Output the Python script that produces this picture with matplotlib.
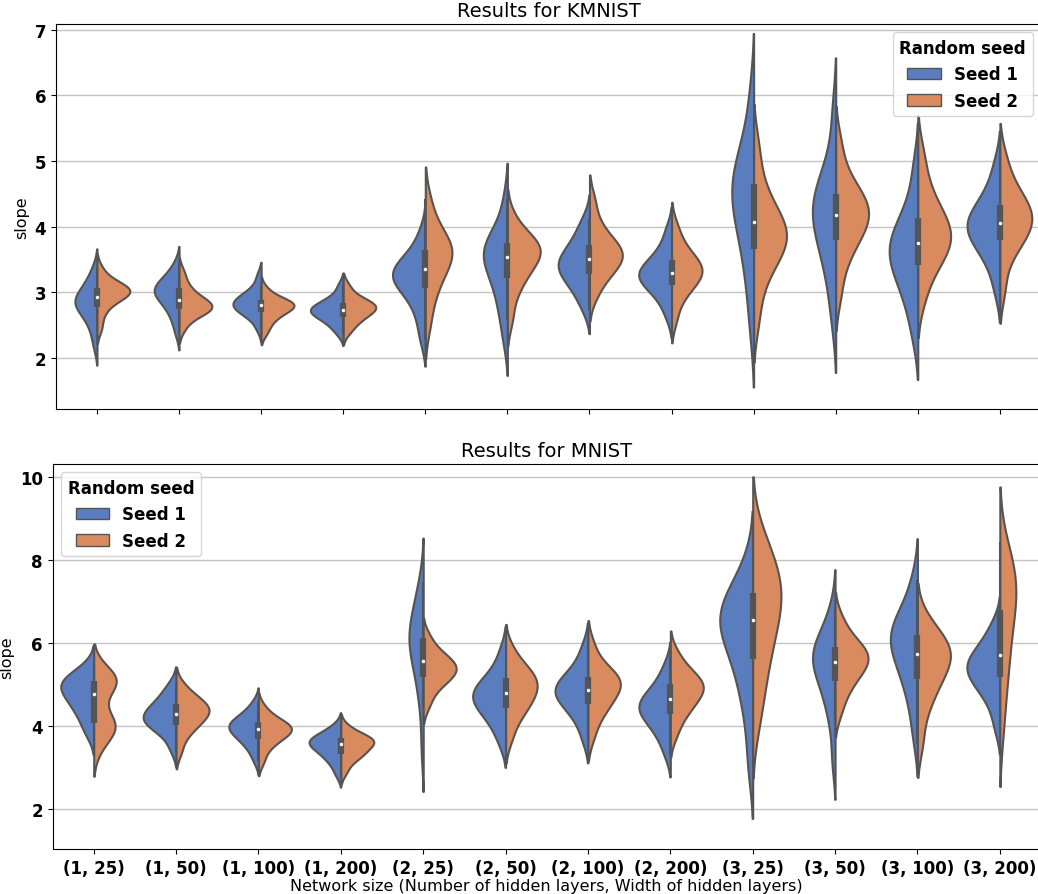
import numpy as np
import matplotlib
matplotlib.use('Agg')
import matplotlib.pyplot as plt
from matplotlib.patches import Patch
import seaborn as sns

sizes = ['(1, 25)', '(1, 50)', '(1, 100)', '(1, 200)',
         '(2, 25)', '(2, 50)', '(2, 100)', '(2, 200)',
         '(3, 25)', '(3, 50)', '(3, 100)', '(3, 200)']
seeds = ['Seed 1', 'Seed 2']

# slope values, one list per network size
kmnist_seed1 = [
    [2.2, 2.42, 2.55, 2.65, 2.72, 2.77, 2.81, 2.85, 2.88, 2.92, 2.97, 3.03, 3.1, 3.2, 3.35],
    [2.4, 2.6, 2.7, 2.8, 2.87, 2.92, 2.96, 3.0, 3.03, 3.07, 3.1, 3.15, 3.2, 3.28, 3.42],
    [2.45, 2.6, 2.66, 2.7, 2.74, 2.77, 2.8, 2.82, 2.85, 2.88, 2.91, 2.95, 3.0, 3.08, 3.25],
    [2.38, 2.48, 2.55, 2.6, 2.64, 2.67, 2.7, 2.72, 2.74, 2.77, 2.8, 2.83, 2.88, 2.95, 3.1],
    [2.3, 2.6, 2.8, 2.95, 3.05, 3.12, 3.18, 3.23, 3.28, 3.33, 3.38, 3.44, 3.52, 3.65, 3.9],
    [2.3, 2.65, 2.85, 3.05, 3.2, 3.32, 3.42, 3.5, 3.57, 3.63, 3.7, 3.77, 3.85, 4.0, 4.4],
    [2.75, 2.95, 3.07, 3.17, 3.25, 3.31, 3.37, 3.42, 3.47, 3.53, 3.6, 3.68, 3.78, 3.92, 4.1],
    [2.65, 2.87, 2.98, 3.07, 3.14, 3.19, 3.23, 3.27, 3.31, 3.36, 3.42, 3.49, 3.58, 3.72, 3.95],
    [2.5, 3.1, 3.45, 3.75, 3.98, 4.15, 4.3, 4.43, 4.56, 4.68, 4.8, 4.93, 5.1, 5.4, 6.0],
    [2.6, 3.1, 3.4, 3.62, 3.8, 3.95, 4.07, 4.18, 4.28, 4.38, 4.48, 4.6, 4.78, 5.05, 5.75],
    [2.35, 2.75, 2.98, 3.15, 3.3, 3.42, 3.52, 3.6, 3.69, 3.78, 3.88, 4.0, 4.15, 4.4, 4.9],
    [3.05, 3.4, 3.57, 3.7, 3.8, 3.88, 3.95, 4.01, 4.07, 4.14, 4.22, 4.32, 4.45, 4.62, 4.95],
]
kmnist_seed2 = [
    [2.45, 2.65, 2.78, 2.86, 2.91, 2.95, 2.98, 3.0, 3.02, 3.04, 3.07, 3.1, 3.14, 3.2, 3.35],
    [2.45, 2.6, 2.66, 2.7, 2.73, 2.76, 2.78, 2.8, 2.83, 2.86, 2.9, 2.96, 3.03, 3.13, 3.3],
    [2.38, 2.5, 2.58, 2.64, 2.69, 2.72, 2.75, 2.78, 2.8, 2.82, 2.84, 2.86, 2.89, 2.94, 3.05],
    [2.4, 2.5, 2.57, 2.62, 2.66, 2.7, 2.73, 2.76, 2.78, 2.8, 2.83, 2.86, 2.9, 2.97, 3.1],
    [2.5, 2.85, 3.05, 3.2, 3.32, 3.42, 3.5, 3.57, 3.63, 3.68, 3.74, 3.82, 3.93, 4.1, 4.4],
    [2.6, 2.95, 3.12, 3.25, 3.35, 3.43, 3.5, 3.56, 3.62, 3.67, 3.72, 3.77, 3.83, 3.92, 4.15],
    [2.95, 3.15, 3.27, 3.35, 3.42, 3.48, 3.53, 3.58, 3.63, 3.68, 3.74, 3.82, 3.93, 4.1, 4.4],
    [2.6, 2.88, 3.0, 3.1, 3.17, 3.23, 3.28, 3.33, 3.37, 3.42, 3.48, 3.55, 3.64, 3.78, 4.0],
    [2.6, 3.1, 3.35, 3.52, 3.63, 3.72, 3.8, 3.87, 3.94, 4.02, 4.12, 4.25, 4.42, 4.7, 5.2],
    [3.0, 3.45, 3.65, 3.8, 3.92, 4.02, 4.1, 4.18, 4.25, 4.32, 4.4, 4.5, 4.62, 4.82, 5.25],
    [2.9, 3.25, 3.42, 3.55, 3.65, 3.73, 3.81, 3.89, 3.97, 4.06, 4.16, 4.28, 4.45, 4.7, 5.1],
    [3.05, 3.5, 3.68, 3.8, 3.9, 3.98, 4.05, 4.12, 4.19, 4.26, 4.34, 4.43, 4.56, 4.73, 5.05],
]
mnist_seed1 = [
    [3.8, 4.05, 4.25, 4.4, 4.52, 4.63, 4.73, 4.82, 4.9, 4.97, 5.04, 5.1, 5.17, 5.27, 5.45],
    [3.45, 3.75, 3.9, 3.99, 4.06, 4.12, 4.18, 4.24, 4.3, 4.37, 4.45, 4.54, 4.65, 4.8, 5.0],
    [3.2, 3.45, 3.58, 3.68, 3.77, 3.84, 3.9, 3.95, 4.0, 4.05, 4.1, 4.16, 4.24, 4.35, 4.55],
    [2.85, 3.08, 3.2, 3.3, 3.38, 3.45, 3.51, 3.56, 3.6, 3.64, 3.68, 3.72, 3.78, 3.86, 4.0],
    [3.5, 4.5, 4.95, 5.3, 5.55, 5.75, 5.9, 6.02, 6.15, 6.28, 6.42, 6.6, 6.82, 7.1, 7.45],
    [3.6, 3.95, 4.15, 4.3, 4.43, 4.53, 4.62, 4.7, 4.78, 4.86, 4.95, 5.06, 5.2, 5.4, 5.8],
    [3.7, 4.1, 4.3, 4.45, 4.58, 4.68, 4.76, 4.83, 4.9, 4.98, 5.07, 5.18, 5.32, 5.52, 5.9],
    [3.35, 3.7, 3.9, 4.05, 4.18, 4.28, 4.37, 4.44, 4.51, 4.59, 4.68, 4.79, 4.93, 5.12, 5.45],
    [3.1, 4.2, 4.8, 5.25, 5.6, 5.9, 6.15, 6.35, 6.5, 6.63, 6.76, 6.9, 7.08, 7.35, 7.85],
    [3.2, 4.1, 4.5, 4.8, 5.05, 5.25, 5.4, 5.52, 5.63, 5.74, 5.85, 5.97, 6.12, 6.35, 6.8],
    [3.8, 4.5, 4.9, 5.2, 5.45, 5.65, 5.82, 5.97, 6.1, 6.22, 6.35, 6.5, 6.68, 6.95, 7.5],
    [4.0, 4.5, 4.75, 4.93, 5.07, 5.19, 5.29, 5.38, 5.47, 5.56, 5.66, 5.78, 5.93, 6.15, 6.45],
]
mnist_seed2 = [
    [3.45, 3.75, 3.9, 3.98, 4.02, 4.06, 4.12, 4.45, 4.85, 5.02, 5.07, 5.1, 5.14, 5.2, 5.32],
    [3.4, 3.75, 3.9, 4.02, 4.12, 4.2, 4.27, 4.33, 4.39, 4.45, 4.51, 4.58, 4.66, 4.78, 4.98],
    [3.15, 3.42, 3.56, 3.66, 3.74, 3.8, 3.85, 3.9, 3.94, 3.98, 4.03, 4.08, 4.15, 4.25, 4.45],
    [2.9, 3.12, 3.24, 3.3, 3.36, 3.43, 3.5, 3.56, 3.6, 3.64, 3.67, 3.71, 3.76, 3.83, 3.98],
    [4.5, 4.8, 4.97, 5.08, 5.17, 5.24, 5.31, 5.37, 5.43, 5.49, 5.56, 5.64, 5.74, 5.88, 6.15],
    [3.7, 4.1, 4.3, 4.45, 4.58, 4.7, 4.8, 4.9, 4.99, 5.08, 5.17, 5.27, 5.38, 5.53, 5.85],
    [3.75, 4.15, 4.35, 4.5, 4.63, 4.75, 4.85, 4.95, 5.03, 5.1, 5.17, 5.25, 5.36, 5.55, 5.95],
    [3.8, 4.15, 4.33, 4.47, 4.6, 4.7, 4.8, 4.88, 4.95, 5.02, 5.1, 5.19, 5.3, 5.47, 5.75],
    [4.1, 4.8, 5.3, 5.7, 6.05, 6.35, 6.6, 6.85, 7.05, 7.25, 7.45, 7.65, 7.9, 8.2, 8.65],
    [4.35, 4.75, 4.97, 5.14, 5.28, 5.4, 5.5, 5.58, 5.66, 5.74, 5.83, 5.93, 6.06, 6.25, 6.6],
    [3.6, 4.3, 4.65, 4.9, 5.1, 5.27, 5.42, 5.55, 5.67, 5.78, 5.88, 5.99, 6.12, 6.3, 6.6],
    [3.9, 4.7, 5.2, 5.6, 5.95, 6.3, 6.6, 6.85, 7.05, 7.25, 7.42, 7.6, 7.8, 8.05, 8.4],
]

pal = [sns.desaturate(c, 0.75) for c in sns.color_palette('muted')[:2]]
gray = '#545454'
lw = 1.5


def kde(vals, bw_adjust=0.9, cut=2, gridsize=200):
    vals = np.asarray(vals, dtype=float)
    bw = vals.std(ddof=1) * len(vals) ** (-1 / 5) * bw_adjust
    support = np.linspace(vals.min() - cut * bw, vals.max() + cut * bw, gridsize)
    z = (support[:, None] - vals[None, :]) / bw
    dens = np.exp(-0.5 * z ** 2).sum(axis=1) / (len(vals) * bw * np.sqrt(2 * np.pi))
    return support, dens


def draw_panel(ax, s1, s2, title, ylim, legend_loc):
    for i in range(len(sizes)):
        y1, d1 = kde(s1[i])
        y2, d2 = kde(s2[i])
        # both halves of a violin share one scale (scale_hue)
        peak = max(d1.max(), d2.max())
        ax.fill_betweenx(y1, i - d1 / peak * 0.4, i, facecolor=pal[0],
                         edgecolor=gray, linewidth=lw, zorder=2)
        ax.fill_betweenx(y2, i, i + d2 / peak * 0.4, facecolor=pal[1],
                         edgecolor=gray, linewidth=lw, zorder=2)

        # inner box from both seeds together
        both = np.concatenate([s1[i], s2[i]])
        q25, q50, q75 = np.percentile(both, [25, 50, 75])
        lim = 1.5 * (q75 - q25)
        lo = both[both >= q25 - lim].min()
        hi = both[both <= q75 + lim].max()
        ax.plot([i, i], [lo, hi], color=gray, linewidth=lw, zorder=3)
        ax.plot([i, i], [q25, q75], color=gray, linewidth=lw * 3,
                solid_capstyle='butt', zorder=3)
        ax.scatter(i, q50, s=(lw * 2) ** 2, color='white', edgecolor=gray,
                   linewidth=0.5, zorder=4)

    ax.set_xlim(-0.5, len(sizes) - 0.5)
    ax.set_ylim(*ylim)
    ax.set_xticks(range(len(sizes)))
    ax.grid(axis='y', color='#c4c4c4', linewidth=1)
    ax.set_axisbelow(True)
    ax.set_title(title, fontsize=14)
    ax.set_ylabel('slope', fontsize=11.5)
    for lab in ax.get_yticklabels():
        lab.set_fontweight('bold')
        lab.set_fontsize(12)

    handles = [Patch(facecolor=pal[k], edgecolor=gray, linewidth=1, label=seeds[k])
               for k in range(2)]
    leg = ax.legend(handles=handles, title='Random seed', loc=legend_loc,
                    prop={'weight': 'bold', 'size': 12})
    leg.get_title().set_fontweight('bold')
    leg.get_title().set_fontsize(12)


fig = plt.figure(figsize=(10.38, 8.95), dpi=100)
ax1 = fig.add_axes([0.0539, 0.5419, 0.9489, 0.4302])
ax2 = fig.add_axes([0.0506, 0.0503, 0.9523, 0.4302])

draw_panel(ax1, kmnist_seed1, kmnist_seed2, 'Results for KMNIST', (1.22, 7.09), 'upper right')
draw_panel(ax2, mnist_seed1, mnist_seed2, 'Results for MNIST', (1.04, 10.31), 'upper left')

ax1.tick_params(axis='x', labelbottom=False)
ax2.set_xticklabels(sizes, fontsize=12, fontweight='bold')
ax2.set_xlabel('Network size (Number of hidden layers, Width of hidden layers)',
               fontsize=11.5, labelpad=1)

fig.savefig('out.png', dpi=100)
